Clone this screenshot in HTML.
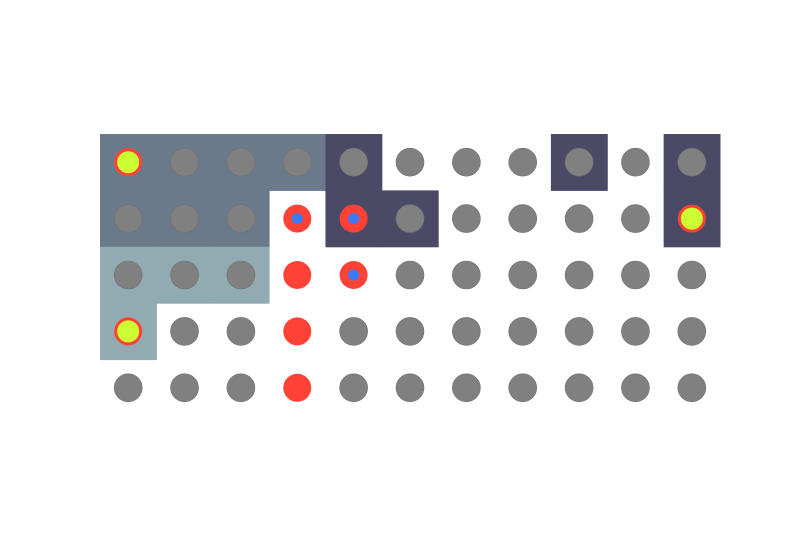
<!DOCTYPE html>
<html><head><meta charset="utf-8"><style>html,body{margin:0;background:#fff;}svg{display:block}</style></head>
<body>
<svg id="chart" width="800" height="550" viewBox="0 0 800 550"></svg>
<script>
// background category per cell: 0 none, 1 slate, 2 dark, 3 light
const bgRows = [
  [1,1,1,1,2,0,0,0,2,0,2],
  [1,1,1,0,2,2,0,0,0,0,2],
  [3,3,3,0,0,0,0,0,0,0,0],
  [3,0,0,0,0,0,0,0,0,0,0],
  [0,0,0,0,0,0,0,0,0,0,0]
];
// marker type: 0 gray, 1 red, 2 red with blue dot, 3 yellow with red ring
const markerRows = [
  [3,0,0,0,0,0,0,0,0,0,0],
  [0,0,0,2,2,0,0,0,0,0,3],
  [0,0,0,1,2,0,0,0,0,0,0],
  [3,0,0,1,0,0,0,0,0,0,0],
  [0,0,0,1,0,0,0,0,0,0,0]
];
const bgColors = [null,'#6b7a8b','#4a4a66','#92abb3'];
const svg = document.getElementById('chart');
const NS = 'http://www.w3.org/2000/svg';
const x0 = 100, y0 = 134, cw = 620/11, ch = 56.4;
const xPos = c => x0 + c*cw;
const yPos = r => y0 + r*ch;
function mk(tag, attrs){const e=document.createElementNS(NS,tag);for(const k in attrs)e.setAttribute(k,attrs[k]);svg.appendChild(e);return e;}
bgRows.forEach((row,r)=>row.forEach((v,c)=>{
  if(!v) return;
  const e = mk('rect',{x:xPos(c),y:yPos(r),width:cw+0.5,height:ch+0.5,fill:bgColors[v]});
  
  
}));
markerRows.forEach((row,r)=>row.forEach((v,c)=>{
  const cx = xPos(c)+cw/2, cy = yPos(r)+ch/2;
  let e;
  if(v===0){ e = mk('circle',{cx,cy,r:14,fill:'#808080',stroke:'#707070','stroke-width':0.6}); }
  else if(v===1 || v===2){ e = mk('circle',{cx,cy,r:14,fill:'#ff4136'}); }
  else { e = mk('circle',{cx,cy,r:12.5,fill:'#ccff33',stroke:'#ff4136','stroke-width':3}); }
  
  
  if(v===2){
    const d = mk('circle',{cx,cy,r:5.5,fill:'#3a7aff'});
    
    
  }
}));
</script>
</body></html>
